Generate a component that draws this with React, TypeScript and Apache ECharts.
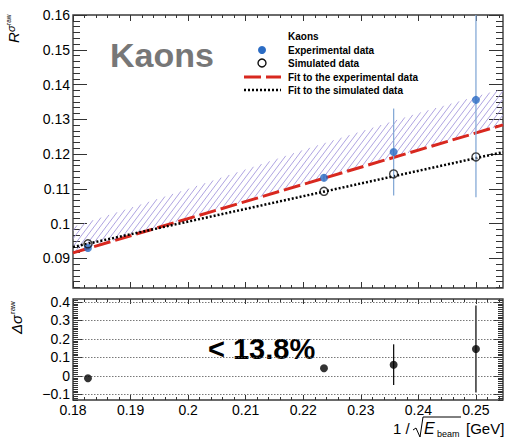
import React, { useEffect, useRef } from "react";
import * as echarts from "echarts";

// 1/sqrt(E_beam) of the four beam energies (30, 20, 18, 16 GeV)
const beamX = [0.1826, 0.2236, 0.2357, 0.25];

// Upper panel: R^{sigma raw}
const expR = [0.093, 0.1132, 0.1206, 0.1356];
const expErr = [0.0004, 0.0011, 0.0125, 0.028];
const simR = [0.0942, 0.1093, 0.1143, 0.1192];

// Linear fits: [value at x = 0.18, slope]
const fitExp = [0.0916, 0.4926];
const fitSim = [0.0933, 0.365];

// Hatched uncertainty band
const bandX = [0.18, 0.2, 0.22, 0.24, 0.2547];
const bandUpper = [0.0991, 0.11, 0.1212, 0.1318, 0.1388];
const bandLower = [0.0916, 0.1015, 0.1113, 0.1212, 0.1284];

// Lower panel: relative difference
const diffVals = [-0.012, 0.042, 0.061, 0.146];
const diffErr = [0, 0, 0.11, 0.235];

// Axis ranges and tick values
const X_MIN = 0.18;
const X_MAX = 0.2547;
const R_MIN = 0.0815;
const R_MAX = 0.16;
const D_MIN = -0.13;
const D_MAX = 0.416;
const xTicks = [0.18, 0.19, 0.2, 0.21, 0.22, 0.23, 0.24, 0.25];
const rTicks = [0.09, 0.1, 0.11, 0.12, 0.13, 0.14, 0.15, 0.16];
const dTicks = [-0.1, 0, 0.1, 0.2, 0.3, 0.4];

const range = (a: number, b: number, div: number) => {
  const out: number[] = [];
  for (let k = a; k <= b; k++) out.push(k / div);
  return out;
};
const xMinor = range(90, 127, 500);
const rMinor = range(49, 96, 600);
const dMinor = range(-13, 41, 100);

const FONT = "'Liberation Sans', Arial, Helvetica, sans-serif";
const TICK_COLOR = "#333";

const fmt = (v: number) => String(+v.toFixed(3)).replace("-", "\u2212");

function axis(
  grid: number,
  position: string,
  min: number,
  max: number,
  ticks: number[],
  len: number,
  label: boolean
) {
  return {
    type: "value",
    gridIndex: grid,
    position,
    min,
    max,
    axisLine: { show: false, onZero: false },
    splitLine: { show: false },
    axisTick: {
      show: true,
      inside: true,
      length: len,
      customValues: ticks,
      lineStyle: { color: TICK_COLOR, width: 1 },
    },
    axisLabel: label
      ? {
          show: true,
          customValues: ticks,
          formatter: fmt,
          fontFamily: FONT,
          fontSize: 14,
          color: "#000",
          margin: 3,
        }
      : { show: false },
  };
}

function errorBars(xs: number[], ys: number[], errs: number[]) {
  return xs.map((x, i) => [x, ys[i] - errs[i], ys[i] + errs[i]]);
}

export default function App() {
  const ref = useRef<HTMLDivElement>(null);

  useEffect(() => {
    if (!ref.current) return;
    const chart = echarts.init(ref.current, null, { renderer: "svg" });

    const fitLine = (p: number[]) => [
      [X_MIN, p[0]],
      [X_MAX, p[0] + p[1] * (X_MAX - X_MIN)],
    ];

    // Diagonal hatching clipped to the band polygon
    const hatchItem = (_params: any, api: any) => {
      const upper = bandX.map((x, i) => api.coord([x, bandUpper[i]]));
      const lower = bandX.map((x, i) => api.coord([x, bandLower[i]])).reverse();
      const poly = [...upper, ...lower];
      const ang = (53 * Math.PI) / 180;
      const d = [Math.cos(ang), -Math.sin(ang)];
      const n = [Math.sin(ang), Math.cos(ang)];
      const proj = poly.map((p: number[]) => p[0] * n[0] + p[1] * n[1]);
      const cMin = Math.min(...proj);
      const cMax = Math.max(...proj);
      const spacing = 4.8;
      const children: any[] = [];
      for (let c = cMin + spacing / 2; c < cMax; c += spacing) {
        const hits: number[][] = [];
        for (let i = 0; i < poly.length; i++) {
          const j = (i + 1) % poly.length;
          const f1 = proj[i] - c;
          const f2 = proj[j] - c;
          if (f1 < 0 !== f2 < 0) {
            const t = f1 / (f1 - f2);
            hits.push([
              poly[i][0] + (poly[j][0] - poly[i][0]) * t,
              poly[i][1] + (poly[j][1] - poly[i][1]) * t,
            ]);
          }
        }
        hits.sort((a, b) => a[0] * d[0] + a[1] * d[1] - (b[0] * d[0] + b[1] * d[1]));
        for (let k = 0; k + 1 < hits.length; k += 2) {
          children.push({
            type: "line",
            shape: { x1: hits[k][0], y1: hits[k][1], x2: hits[k + 1][0], y2: hits[k + 1][1] },
            style: { stroke: "#a094dc", lineWidth: 0.85 },
          });
        }
      }
      return { type: "group", children };
    };

    const barItem = (color: string) => (_params: any, api: any) => {
      const lo = api.coord([api.value(0), api.value(1)]);
      const hi = api.coord([api.value(0), api.value(2)]);
      return {
        type: "line",
        shape: { x1: lo[0], y1: lo[1], x2: hi[0], y2: hi[1] },
        style: { stroke: color, lineWidth: 1.3 },
      };
    };

    const textStyle = (extra: any) => ({ fontFamily: FONT, fill: "#000", ...extra });

    const option: any = {
      animation: false,
      grid: [
        { left: 73, top: 15, width: 430, height: 273, show: true, borderColor: "#3a3a3a", borderWidth: 1.4, backgroundColor: "transparent" },
        { left: 73, top: 299, width: 430, height: 101, show: true, borderColor: "#3a3a3a", borderWidth: 1.4, backgroundColor: "transparent" },
      ],
      xAxis: [
        axis(0, "bottom", X_MIN, X_MAX, xTicks, 6, false),
        axis(0, "bottom", X_MIN, X_MAX, xMinor, 3, false),
        axis(0, "top", X_MIN, X_MAX, xTicks, 6, false),
        axis(0, "top", X_MIN, X_MAX, xMinor, 3, false),
        axis(1, "bottom", X_MIN, X_MAX, xTicks, 5, true),
        axis(1, "bottom", X_MIN, X_MAX, xMinor, 3, false),
        axis(1, "top", X_MIN, X_MAX, xTicks, 5, false),
        axis(1, "top", X_MIN, X_MAX, xMinor, 3, false),
      ],
      yAxis: [
        axis(0, "left", R_MIN, R_MAX, rTicks, 14, true),
        axis(0, "left", R_MIN, R_MAX, rMinor, 7, false),
        axis(0, "right", R_MIN, R_MAX, rTicks, 14, false),
        axis(0, "right", R_MIN, R_MAX, rMinor, 7, false),
        axis(1, "left", D_MIN, D_MAX, dTicks, 9, true),
        axis(1, "left", D_MIN, D_MAX, dMinor, 5, false),
        axis(1, "right", D_MIN, D_MAX, dTicks, 9, false),
        axis(1, "right", D_MIN, D_MAX, dMinor, 5, false),
      ],
      series: [
        {
          type: "custom",
          name: "band",
          xAxisIndex: 0,
          yAxisIndex: 0,
          clip: true,
          z: 1,
          data: [[bandX[0], bandLower[0]]],
          renderItem: hatchItem,
        },
        {
          type: "line",
          name: "Fit to the experimental data",
          xAxisIndex: 0,
          yAxisIndex: 0,
          z: 2,
          showSymbol: false,
          data: fitLine(fitExp),
          lineStyle: { color: "#d8281f", width: 3, type: [17, 5] },
        },
        {
          type: "line",
          name: "Fit to the simulated data",
          xAxisIndex: 0,
          yAxisIndex: 0,
          z: 3,
          showSymbol: false,
          data: fitLine(fitSim),
          lineStyle: { color: "#000", width: 2.5, type: [2, 2] },
        },
        {
          type: "custom",
          name: "exp errors",
          xAxisIndex: 0,
          yAxisIndex: 0,
          clip: true,
          z: 4,
          data: errorBars(beamX, expR, expErr),
          renderItem: barItem("#86aad6"),
        },
        {
          type: "scatter",
          name: "Experimental data",
          xAxisIndex: 0,
          yAxisIndex: 0,
          z: 5,
          symbol: "circle",
          symbolSize: 8,
          data: beamX.map((x, i) => [x, expR[i]]),
          itemStyle: { color: "#2b6cc4" },
        },
        {
          type: "scatter",
          name: "Simulated data",
          xAxisIndex: 0,
          yAxisIndex: 0,
          z: 6,
          symbol: "circle",
          symbolSize: 8,
          data: beamX.map((x, i) => [x, simR[i]]),
          itemStyle: { color: "transparent", borderColor: "#111", borderWidth: 1.4 },
        },
        {
          type: "custom",
          name: "diff errors",
          xAxisIndex: 4,
          yAxisIndex: 4,
          clip: true,
          z: 4,
          data: errorBars(beamX, diffVals, diffErr),
          renderItem: barItem("#111"),
        },
        {
          type: "scatter",
          name: "Difference",
          xAxisIndex: 4,
          yAxisIndex: 4,
          z: 5,
          symbol: "circle",
          symbolSize: 8,
          data: beamX.map((x, i) => [x, diffVals[i]]),
          itemStyle: { color: "#000" },
          markLine: {
            silent: true,
            symbol: "none",
            label: { show: false },
            lineStyle: { color: "#555", width: 0.8, type: [1.5, 1.5] },
            data: dTicks.map((v) => ({ yAxis: v })),
          },
        },
      ],
      graphic: [
        // panel label
        {
          type: "text",
          x: 110,
          y: 55,
          style: textStyle({ text: "Kaons", fontSize: 34, fontWeight: "bold", fill: "#777", verticalAlign: "middle" }),
        },
        // legend
        {
          type: "text",
          x: 288,
          y: 36,
          style: textStyle({ text: "Kaons", fontSize: 10, fontWeight: "bold", verticalAlign: "middle" }),
        },
        { type: "circle", shape: { cx: 262, cy: 50, r: 4 }, style: { fill: "#2b6cc4" } },
        {
          type: "text",
          x: 288,
          y: 50,
          style: textStyle({ text: "Experimental data", fontSize: 10, fontWeight: "bold", verticalAlign: "middle" }),
        },
        { type: "circle", shape: { cx: 262, cy: 63, r: 4 }, style: { fill: "none", stroke: "#111", lineWidth: 1.4 } },
        {
          type: "text",
          x: 288,
          y: 63,
          style: textStyle({ text: "Simulated data", fontSize: 10, fontWeight: "bold", verticalAlign: "middle" }),
        },
        {
          type: "line",
          shape: { x1: 244, y1: 77, x2: 281, y2: 77 },
          style: { stroke: "#d8281f", lineWidth: 3, lineDash: [17, 5] },
        },
        {
          type: "text",
          x: 288,
          y: 77,
          style: textStyle({ text: "Fit to the experimental data", fontSize: 10, fontWeight: "bold", verticalAlign: "middle" }),
        },
        {
          type: "line",
          shape: { x1: 244, y1: 90, x2: 281, y2: 90 },
          style: { stroke: "#000", lineWidth: 2.5, lineDash: [2, 2] },
        },
        {
          type: "text",
          x: 288,
          y: 90,
          style: textStyle({ text: "Fit to the simulated data", fontSize: 10, fontWeight: "bold", verticalAlign: "middle" }),
        },
        // lower panel annotation
        {
          type: "text",
          x: 208,
          y: 349,
          style: textStyle({ text: "< 13.8%", fontSize: 29, fontWeight: "bold", verticalAlign: "middle" }),
        },
        // y title of the upper panel: R^{sigma^raw}
        {
          type: "group",
          x: 21,
          y: 43,
          rotation: Math.PI / 2,
          children: [
            { type: "text", x: 0, y: 0, style: textStyle({ text: "R", fontSize: 15, fontStyle: "italic", verticalAlign: "bottom" }) },
            { type: "text", x: 11, y: -5, style: textStyle({ text: "\u03c3", fontSize: 11, fontStyle: "italic", verticalAlign: "bottom" }) },
            { type: "text", x: 18, y: -9, style: textStyle({ text: "raw", fontSize: 6.5, verticalAlign: "bottom" }) },
          ],
        },
        // y title of the lower panel: Delta sigma^raw
        {
          type: "group",
          x: 24,
          y: 334,
          rotation: Math.PI / 2,
          children: [
            { type: "text", x: 0, y: 0, style: textStyle({ text: "\u0394\u03c3", fontSize: 15, fontStyle: "italic", verticalAlign: "bottom" }) },
            { type: "text", x: 20, y: -8, style: textStyle({ text: "raw", fontSize: 8, verticalAlign: "bottom" }) },
          ],
        },
        // x title: 1 / sqrt(E_beam) [GeV]
        {
          type: "text",
          x: 393,
          y: 428,
          style: textStyle({ text: "1 /", fontSize: 15, verticalAlign: "middle" }),
        },
        {
          type: "polyline",
          shape: { points: [[413, 430], [416, 428], [420, 437], [423, 417], [461, 417]] },
          style: { stroke: "#000", lineWidth: 1, fill: "none" },
        },
        {
          type: "text",
          x: 424,
          y: 428,
          style: textStyle({ text: "E", fontSize: 16, fontStyle: "italic", verticalAlign: "middle" }),
        },
        {
          type: "text",
          x: 437,
          y: 434,
          style: textStyle({ text: "beam", fontSize: 9, verticalAlign: "middle" }),
        },
        {
          type: "text",
          x: 466,
          y: 428,
          style: textStyle({ text: "[GeV]", fontSize: 15, verticalAlign: "middle" }),
        },
      ],
    };

    chart.setOption(option);
    return () => chart.dispose();
  }, []);

  return (
    <div
      ref={ref}
      style={{ position: "absolute", left: 0, top: 0, width: 508, height: 444, background: "#fff" }}
    />
  );
}
